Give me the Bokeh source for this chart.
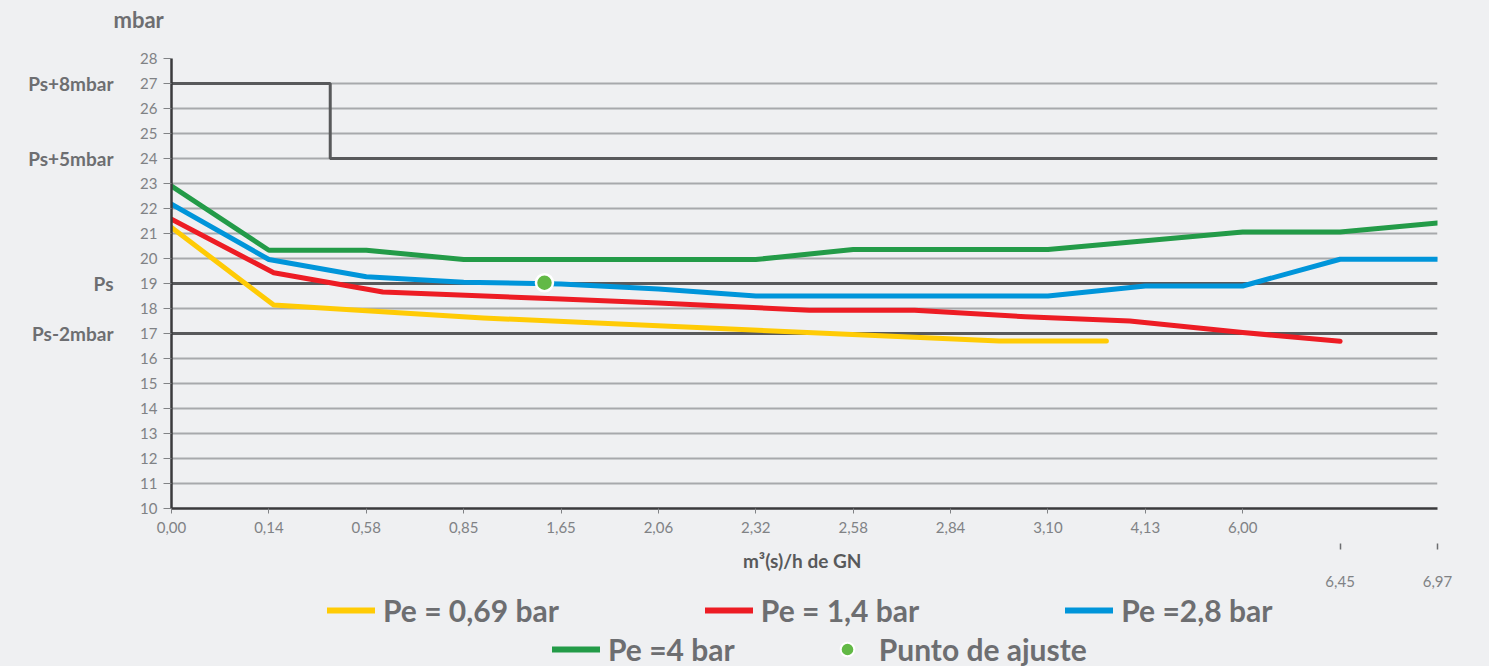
from bokeh.plotting import figure
from bokeh.layouts import column
from bokeh.models import FixedTicker, LinearAxis, Range1d, Span, Legend, LegendItem
from bokeh.embed import file_html
from bokeh.resources import INLINE

# ---- data (x positions in category-index units of the flow axis) ----
x_labels = ["0,00", "0,14", "0,58", "0,85", "1,65", "2,06", "2,32",
            "2,58", "2,84", "3,10", "4,13", "6,00", "6,45", "6,97"]
y_ticks = list(range(10, 29))
ps_ticks = [17, 19, 24, 27]
ps_labels = ["Ps-2mbar", "Ps", "Ps+5mbar", "Ps+8mbar"]
ref_lines = [19, 17]

limit_x = [0, 1.63, 1.63, 13]
limit_y = [27, 27, 24, 24]

pe069_x = [0, 1.05, 3.2, 8.5, 9.6]
pe069_y = [21.24, 18.14, 17.62, 16.7, 16.7]

pe14_x = [0, 1.05, 2.17, 4.0, 5.0, 6.55, 7.63, 8.77, 9.84, 11.0, 12.0]
pe14_y = [21.57, 19.43, 18.66, 18.38, 18.22, 17.93, 17.93, 17.67, 17.5, 17.04, 16.69]

pe28_x = [0, 1, 2, 3, 4, 5, 6, 9, 10, 11, 12, 13]
pe28_y = [22.17, 19.96, 19.27, 19.05, 18.98, 18.78, 18.5, 18.5, 18.9, 18.9, 19.97, 19.97]

pe4_x = [0, 1, 2, 3, 6, 7, 9, 11, 12, 13]
pe4_y = [22.9, 20.33, 20.33, 19.96, 19.96, 20.36, 20.36, 21.06, 21.06, 21.42]

set_x = [3.83]
set_y = [19.03]

series_names = ["Pe = 0,69 bar", "Pe = 1,4 bar", "Pe =2,8 bar", "Pe =4 bar", "Punto de ajuste"]
series_colors = ["#ffcb05", "#ed1c24", "#0095da", "#239b48", "#62b946"]
y_title = "mbar"
x_title = "m³(s)/h de  GN"

BG = "#eff0f2"
DARK = "#58595b"
TXT = "#6d6e71"
TICK = "#808285"
FONT = "Lato"

strip = dict(frame_width=1266, x_axis_location=None, y_axis_location=None, toolbar_location=None,
             output_backend="svg", min_border_left=171, min_border_right=52,
             background_fill_color=BG, border_fill_color=BG, outline_line_color=None,
             x_range=Range1d(0, 1), y_range=Range1d(0, 1))

# ---- top strip carrying the unit title ----
tp = figure(frame_height=1, min_border_top=0, min_border_bottom=4, **strip)
tp.grid.visible = False
tp.title.text = y_title
tp.title.align = "left"
tp.title.vertical_align = "bottom"
tp.title.offset = -58
tp.title.standoff = 6
tp.title.text_font = FONT
tp.title.text_font_style = "bold"
tp.title.text_font_size = "22px"
tp.title.text_color = TXT

# ---- main chart ----
p = figure(frame_width=1266, frame_height=450,
           x_range=Range1d(0, 13), y_range=Range1d(10, 28),
           output_backend="svg", toolbar_location=None,
           min_border_left=171, min_border_right=52, min_border_top=18, min_border_bottom=0,
           background_fill_color=BG, border_fill_color=BG, outline_line_color=None)

xax = p.xaxis[0]
xax.ticker = FixedTicker(ticks=list(range(12)))
xax.major_label_overrides = {i: x_labels[i] for i in range(12)}
xax.axis_line_color = "#3a3a3c"
xax.axis_line_width = 2.5
xax.major_tick_line_color = TICK
xax.major_tick_in = 0
xax.major_tick_out = 5
xax.minor_tick_line_color = None
xax.major_label_standoff = 8
xax.major_label_text_font = FONT
xax.major_label_text_font_size = "15px"
xax.major_label_text_color = TICK
xax.axis_label = x_title
xax.axis_label_standoff = 13
xax.axis_label_text_font = FONT
xax.axis_label_text_font_style = "bold"
xax.axis_label_text_font_size = "19px"
xax.axis_label_text_color = DARK

yax = p.yaxis[0]
yax.ticker = FixedTicker(ticks=y_ticks)
yax.axis_line_color = "#3a3a3c"
yax.axis_line_width = 2.5
yax.major_tick_line_color = TICK
yax.major_tick_in = 0
yax.major_tick_out = 8
yax.minor_tick_line_color = None
yax.major_label_standoff = 6
yax.major_label_text_font = FONT
yax.major_label_text_font_size = "15px"
yax.major_label_text_color = TICK

p.xgrid.grid_line_color = None
p.ygrid.ticker = FixedTicker(ticks=y_ticks)
p.ygrid.grid_line_color = "#a7a9ac"
p.ygrid.grid_line_width = 2

# second x axis for the last two flows (lower row); its ticks reach up beside the main labels
xax2 = LinearAxis(ticker=FixedTicker(ticks=[12, 13]),
                  major_label_overrides={12: x_labels[12], 13: x_labels[13]},
                  axis_line_color=None, major_tick_line_color="#6d6e71", major_tick_line_width=1.5,
                  major_tick_in=31, major_tick_out=-25, minor_tick_in=0, minor_tick_out=0,
                  minor_tick_line_color=None,
                  major_label_standoff=1, major_label_text_font=FONT,
                  major_label_text_font_size="15px", major_label_text_color=TICK)
p.add_layout(xax2, "below")

# Ps labels axis
yax2 = LinearAxis(ticker=FixedTicker(ticks=ps_ticks),
                  major_label_overrides={t: l for t, l in zip(ps_ticks, ps_labels)},
                  axis_line_color=None, major_tick_line_color=None, minor_tick_line_color=None,
                  major_label_standoff=18, major_label_text_font=FONT,
                  major_label_text_font_style="bold", major_label_text_font_size="19px",
                  major_label_text_color=TXT)
p.add_layout(yax2, "left")

for loc in ref_lines:
    p.add_layout(Span(location=loc, dimension="width", line_color=DARK, line_width=3, level="underlay"))

p.line(limit_x, limit_y, line_color=DARK, line_width=3)

p.line(pe069_x, pe069_y, line_color=series_colors[0], line_width=5, line_cap="round", line_join="round")
p.line(pe14_x, pe14_y, line_color=series_colors[1], line_width=5, line_cap="round", line_join="round")
p.line(pe28_x, pe28_y, line_color=series_colors[2], line_width=5, line_cap="round", line_join="round")
p.line(pe4_x, pe4_y, line_color=series_colors[3], line_width=5, line_cap="round", line_join="round")
p.scatter(set_x, set_y, size=17, fill_color=series_colors[4], line_color="white", line_width=2.5)

# ---- legend strip (its proxy glyphs lie outside its ranges, only the legend shows) ----
lp = figure(height=78, min_border_top=0, min_border_bottom=0, **strip)
lp.grid.visible = False
proxy_x = [5, 6]
proxy_y = [5, 6]
lr = [lp.line(x=proxy_x, y=proxy_y, line_color=c, line_width=6, line_cap="round") for c in series_colors[:4]]
lr.append(lp.scatter(x=proxy_x[:1], y=proxy_y[:1], size=17, fill_color=series_colors[4],
                     line_color="white", line_width=2))

common = dict(orientation="horizontal", label_text_font=FONT,
              label_text_font_style="bold", label_text_font_size="30px", label_text_color=TXT,
              glyph_width=48, glyph_height=34, label_standoff=8, background_fill_alpha=0,
              border_line_color=None, padding=0, margin=0)
leg1 = Legend(items=[LegendItem(label=series_names[i], renderers=[lr[i]]) for i in range(3)],
              location=(156, 39), spacing=146, **common)
leg2 = Legend(items=[LegendItem(label=series_names[i], renderers=[lr[i]]) for i in (3, 4)],
              location=(381, 0), spacing=88, **common)
lp.add_layout(leg1, "center")
lp.add_layout(leg2, "center")

layout = column(tp, p, lp, spacing=0, styles={"background-color": BG})
open("out.html", "w").write(file_html(layout, INLINE))
